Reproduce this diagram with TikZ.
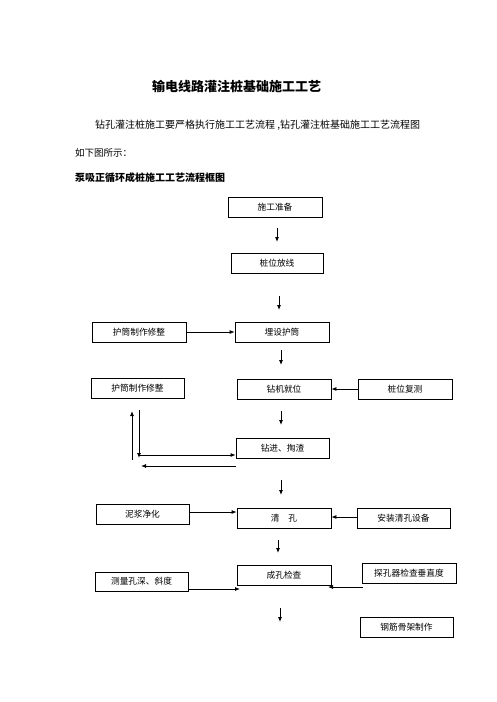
\documentclass[tikz,border=0pt]{standalone}
\usepackage{fontspec}
\setmainfont{Noto Sans CJK SC}
\usetikzlibrary{arrows.meta}
\begin{document}
\begin{tikzpicture}[x=1pt,y=-1pt,
  box/.style={draw,line width=0.8pt,minimum width=94pt,minimum height=20pt,inner sep=0pt,font=\fontsize{8.7}{10}\selectfont},
  arr/.style={line width=0.8pt,-{Latex[length=5pt,width=4pt]}},
  ln/.style={line width=0.8pt}]
\useasboundingbox (0,0) rectangle (496,702);
\node[font=\fontsize{13}{15}\selectfont\bfseries] (title) at (236.5,87) {输电线路灌注桩基础施工工艺};
\node[font=\fontsize{10}{12}\selectfont,anchor=west,inner sep=0pt] (para) at (95,125) {钻孔灌注桩施工要严格执行施工工艺流程 ,钻孔灌注桩基础施工工艺流程图};
\node[font=\fontsize{9.5}{11}\selectfont,anchor=west,inner sep=0pt] (para2) at (75,153) {如下图所示：};
\node[font=\fontsize{10}{12}\selectfont\bfseries,anchor=west,inner sep=0pt] (head) at (75,178) {泵吸正循环成桩施工工艺流程框图};

\node[box] (zb) at (275,207) {施工准备};
\node[box,minimum width=92pt] (fx) at (277,263) {桩位放线};
\node[box] (hu1) at (139,332) {护筒制作修整};
\node[box] (mai) at (282,332) {埋设护筒};
\node[box,minimum width=93pt] (hu2) at (137.5,388) {护筒制作修整};
\node[box] (zj) at (284,389) {钻机就位};
\node[box] (fc) at (405,389) {桩位复测};
\node[box,minimum width=93pt] (zjin) at (282.5,448) {钻进、掏渣};
\node[box,minimum width=93pt] (nj) at (142.5,514) {泥浆净化};
\node[box] (qk) at (284,518) {清\hspace{1em}孔};
\node[box,minimum width=93pt] (az) at (403.5,518) {安装清孔设备};
\node[box,minimum width=93pt,minimum height=19pt] (cl) at (141.5,581.5) {测量孔深、斜度};
\node[box] (cj) at (284,575) {成孔检查};
\node[box] (tk) at (409,573) {探孔器检查垂直度};
\node[box,minimum width=93pt] (gj) at (406.5,627) {钢筋骨架制作};

% free vertical arrows
\coordinate (a1s) at (277,228); \coordinate (a1e) at (277,242);
\coordinate (a2s) at (279,296); \coordinate (a2e) at (279,310);
\coordinate (a3s) at (281,350); \coordinate (a3e) at (281,365);
\coordinate (a4s) at (281,411); \coordinate (a4e) at (281,425);
\coordinate (a5s) at (281,480); \coordinate (a5e) at (281,495);
\coordinate (a6s) at (278,540); \coordinate (a6e) at (278,553);
\coordinate (a7s) at (280,608); \coordinate (a7e) at (280,622);
\foreach \i in {1,...,7} {\draw[arr] (a\i s) -- (a\i e);}

\draw[arr] (hu1.east) -- (mai.west);
\draw[arr] (fc.west) -- (zj.east);

% loop lines
\coordinate (l1t) at (139,410); \coordinate (l1b) at (139,458);
\coordinate (l1c) at (139,455);
\draw[arr] (l1t) -- (l1b);
\draw[arr] (l1c) -- (zjin.west |- l1c);
\coordinate (l2b) at (132,460); \coordinate (l2t) at (132,411);
\draw[arr] (l2b) -- (l2t);
\coordinate (l3s) at (236,466); \coordinate (l3e) at (141,466);
\draw[arr] (l3s) -- (l3e);

\coordinate (y512) at (0,512);
\draw[arr] (nj.east |- y512) -- (qk.west |- y512);
\coordinate (y517) at (0,517);
\draw[arr] (az.west |- y517) -- (qk.east |- y517);
\coordinate (y589) at (0,589);
\coordinate (c1e) at (240,589);
\draw[arr] (cl.east |- y589) -- (c1e);
\coordinate (t1s) at (363,587); \coordinate (t1e) at (328,587);
\draw[arr] (t1s) -- (t1e);
\end{tikzpicture}
\end{document}
